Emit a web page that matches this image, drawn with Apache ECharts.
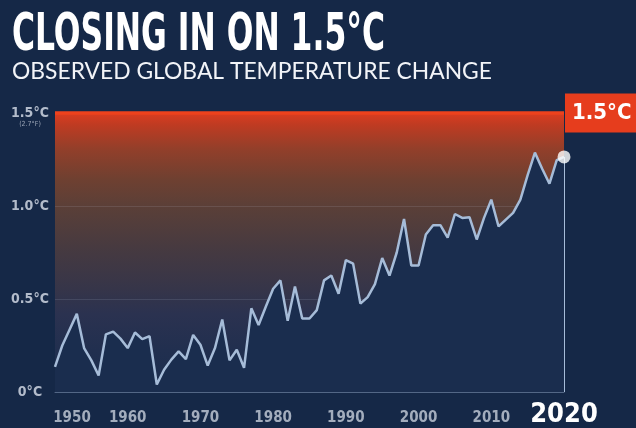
<!DOCTYPE html>
<html>
<head>
<meta charset="utf-8">
<script src="https://cdn.jsdelivr.net/npm/echarts@6/dist/echarts.min.js"></script>
<style>
html,body{margin:0;padding:0;background:#152847;}
#chart{width:636px;height:428px;}
</style>
</head>
<body>
<div id="chart"></div>
<script>
const titleText = 'CLOSING IN ON 1.5°C';
const subtitleText = 'OBSERVED GLOBAL TEMPERATURE CHANGE';
const thresholdLabel = '1.5°C';
const years = [1950,1951,1952,1953,1954,1955,1956,1957,1958,1959,
  1960,1961,1962,1963,1964,1965,1966,1967,1968,1969,
  1970,1971,1972,1973,1974,1975,1976,1977,1978,1979,
  1980,1981,1982,1983,1984,1985,1986,1987,1988,1989,
  1990,1991,1992,1993,1994,1995,1996,1997,1998,1999,
  2000,2001,2002,2003,2004,2005,2006,2007,2008,2009,
  2010,2011,2012,2013,2014,2015,2016,2017,2018,2019,2020];
const temps = [0.135,0.25,0.335,0.42,0.236,0.17,0.089,0.31,0.325,0.287,
  0.236,0.32,0.284,0.30,0.04,0.12,0.174,0.218,0.177,0.307,
  0.254,0.142,0.236,0.39,0.17,0.227,0.13,0.45,0.36,0.46,
  0.555,0.60,0.383,0.567,0.395,0.395,0.44,0.60,0.626,0.528,
  0.709,0.69,0.475,0.51,0.58,0.72,0.626,0.75,0.93,0.68,
  0.68,0.847,0.897,0.897,0.83,0.957,0.936,0.94,0.82,0.936,
  1.034,0.89,0.927,0.963,1.034,1.166,1.287,1.20,1.12,1.246,1.264];
const threshold = 1.5;
const yTicks = [0, 0.5, 1.0, 1.5];
const yTickLabels = ['0°C', '0.5°C', '1.0°C', '1.5°C'];
const yTopSubLabel = '(2.7°F)';
const xTicks = [1950,1960,1970,1980,1990,2000,2010,2020];
const xTickLabels = ['1950','1960','1970','1980','1990','2000','2010','2020'];

const condensed = "'DejaVu Sans Condensed','Liberation Sans Narrow',sans-serif";

function measure(text, font) {
  const c = document.createElement('canvas').getContext('2d');
  c.font = font;
  return c.measureText(text).width;
}
const titleFont = 'bold 52px ' + condensed;
const titleScaleX = 373 / measure(titleText, titleFont);
const subFont = '23px Lato, sans-serif';
const subScaleX = 480 / measure(subtitleText, subFont);

const baseData = years.map((y, i) => [y, temps[i]]);
const lastIdx = years.length - 1;
const plotBg = '#1a2d4e';

const chart = echarts.init(document.getElementById('chart'), null, {renderer: 'canvas'});
chart.setOption({
  backgroundColor: '#152847',
  animation: false,
  grid: {left: 55, right: 72, top: 113, bottom: 32, show: true, backgroundColor: plotBg, borderWidth: 0},
  xAxis: {
    type: 'value', min: 1950, max: 2020, interval: 10,
    axisLine: {show: true, lineStyle: {color: 'rgba(160,180,210,0.45)', width: 1}},
    axisTick: {show: false},
    splitLine: {show: false},
    axisLabel: {
      margin: 19,
      showMinLabel: true, showMaxLabel: true,
      formatter: function (v) {
        const i = xTicks.indexOf(v);
        if (i < 0) return '';
        if (v === 2020) return '{big|' + xTickLabels[i] + '}';
        if (i === 0) return '{first|' + xTickLabels[i] + '}';
        return '{yr|' + xTickLabels[i] + '}';
      },
      rich: {
        yr: {fontFamily: condensed, fontWeight: 'bold', fontSize: 15, color: '#a3adbd'},
        first: {fontFamily: condensed, fontWeight: 'bold', fontSize: 15, color: '#a3adbd', padding: [0, 0, 0, 34]},
        big: {fontFamily: condensed, fontWeight: 'bold', fontSize: 27, color: '#ffffff', padding: [-10, 0, 0, 0]}
      }
    }
  },
  yAxis: {
    type: 'value', min: 0, max: 1.5, interval: 0.5,
    axisLine: {show: false}, axisTick: {show: false},
    splitLine: {show: false},
    axisLabel: {
      margin: 25, align: 'center',
      formatter: function (v) {
        const i = yTicks.findIndex(t => Math.abs(t - v) < 1e-6);
        if (i < 0) return '';
        if (i === yTicks.length - 1) return '{s| }\n{a|' + yTickLabels[i] + '}\n{s|' + yTopSubLabel + '}';
        return '{a|' + yTickLabels[i] + '}';
      },
      rich: {
        a: {fontFamily: condensed, fontWeight: 'bold', fontSize: 14, lineHeight: 15, color: '#b3bccb'},
        s: {fontFamily: condensed, fontSize: 7, lineHeight: 8, color: '#9aa4b5'}
      }
    }
  },
  graphic: [
    {type: 'text', x: 12, y: 36, scaleX: titleScaleX, scaleY: 1,
      style: {text: titleText, font: titleFont, fill: '#ffffff', verticalAlign: 'middle'}},
    {type: 'text', x: 12, y: 72, scaleX: subScaleX, scaleY: 1,
      style: {text: subtitleText, font: subFont, fill: '#f2f4f8', verticalAlign: 'middle'}}
  ],
  series: [
    {type: 'line', data: baseData, symbol: 'none', z: 5,
      lineStyle: {color: '#a6bcd8', width: 2.5},
      areaStyle: {color: plotBg, opacity: 1},
      markArea: {
        silent: true,
        itemStyle: {
          color: new echarts.graphic.LinearGradient(0, 0, 0, 1, [
            {offset: 0, color: '#dc3d20'},
            {offset: 0.04, color: '#c03b22'},
            {offset: 0.13, color: '#923f2a'},
            {offset: 0.24, color: '#6e4031'},
            {offset: 0.34, color: '#5a3f38'},
            {offset: 0.48, color: '#473a40'},
            {offset: 0.63, color: '#363549'},
            {offset: 0.72, color: '#2b3250'},
            {offset: 0.85, color: '#212f4f'},
            {offset: 1, color: plotBg}
          ])
        },
        data: [[{yAxis: 0}, {yAxis: threshold}]]
      },
      markLine: {
        silent: true, symbol: 'none', animation: false,
        data: [
          [{coord: [years[lastIdx], 0]}, {coord: [years[lastIdx], temps[lastIdx]]}]
        ],
        lineStyle: {color: '#a6bcd8', width: 2, type: 'solid'},
        label: {show: false}
      }
    },
    {type: 'line', data: [], z: 4,
      markLine: {
        silent: true, symbol: 'none', animation: false,
        data: [{yAxis: yTicks[1]}, {yAxis: yTicks[2]}],
        lineStyle: {color: 'rgba(200,210,230,0.13)', width: 1, type: 'solid'},
        label: {show: false}
      }
    },
    {type: 'line', data: [], z: 6,
      markLine: {
        silent: true, symbol: 'none', animation: false,
        data: [{yAxis: threshold}],
        lineStyle: {color: '#ee421d', width: 3.5, type: 'solid'},
        label: {
          show: true, position: 'end', distance: 1,
          formatter: thresholdLabel,
          backgroundColor: '#e63d1d', color: '#ffffff',
          fontFamily: condensed, fontWeight: 'bold', fontSize: 22,
          padding: [9, 8, 8, 7]
        }
      }
    },
    {type: 'scatter', data: [[years[lastIdx], temps[lastIdx]]], symbolSize: 13, z: 10,
      itemStyle: {color: '#ffffff'}}
  ]
});
</script>
</body>
</html>
